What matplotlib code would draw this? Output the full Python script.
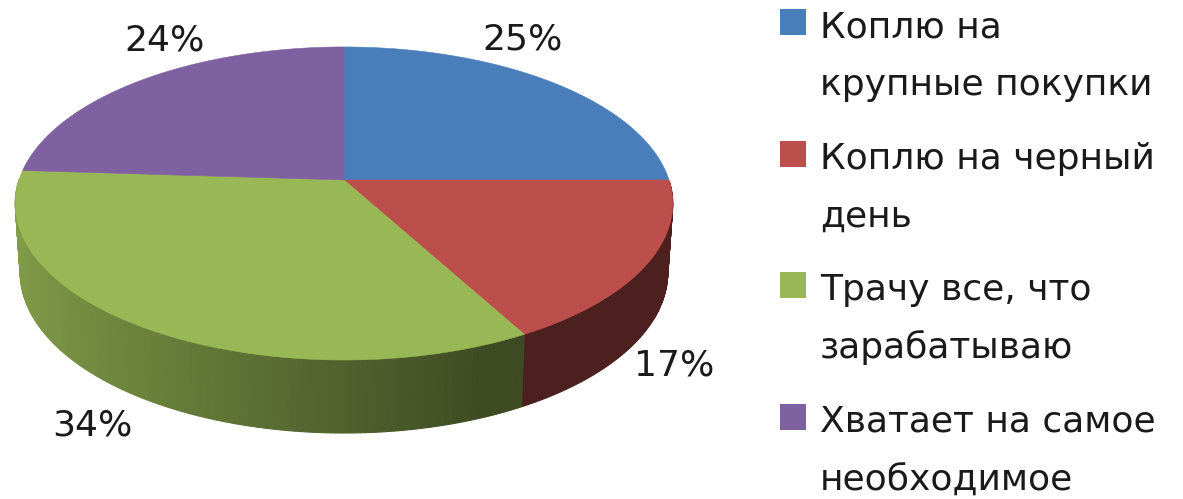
import numpy as np
import matplotlib.pyplot as plt
from matplotlib.colors import to_rgb
from matplotlib.patches import Polygon, Rectangle

# Данные диаграммы
categories = [
    "Коплю на\nкрупные покупки",
    "Коплю на черный\nдень",
    "Трачу все, что\nзарабатываю",
    "Хватает на самое\nнеобходимое",
]
shares = [25, 17, 34, 24]
colors = ["#4a7ebb", "#bc4f4c", "#98b855", "#7f60a0"]

# Подписи долей, центры в пикселях картинки
label_pos = [(523, 39), (674, 365), (92, 426), (165, 40)]

# Параметры перспективы круга
CX, CY = 344.0, 180.0
RX, RY = 325.0, 153.0
PERSP = 0.15


def top_point(theta):
    x = np.sin(theta)
    y = -np.cos(theta)
    w = 1.0 - PERSP * y
    return CX + RX * x / w, CY + RY * y / w


def bottom_point(theta):
    px, py = top_point(theta)
    return CX + 0.985 * (px - CX), py + 68.0 - 5.0 * np.cos(theta)


def side_shade(theta):
    return max(0.85 - (np.sin(theta) + 1.0) * 0.32, 0.40)


fig = plt.figure(figsize=(11.83, 4.99), dpi=100)
ax = fig.add_axes([0, 0, 1, 1])
ax.set_xlim(0, 1183)
ax.set_ylim(499, 0)
ax.axis("off")

edges = 2.0 * np.pi * np.cumsum([0] + shares) / sum(shares)

# Боковая стенка рисуется полосками для градиента, задняя часть не видна
for start, end, color in zip(edges[:-1], edges[1:], colors):
    base = np.array(to_rgb(color))
    steps = np.linspace(start, end, max(int((end - start) * 90), 2))
    for t0, t1 in zip(steps[:-1], steps[1:]):
        if np.cos(t0) > 0.0:
            continue
        quad = [top_point(t0), top_point(t1), bottom_point(t1), bottom_point(t0)]
        shade = base * side_shade(t0)
        ax.add_patch(Polygon(quad, closed=True, facecolor=shade, edgecolor=shade, linewidth=0.8, zorder=2))

# Верхняя грань
for start, end, color in zip(edges[:-1], edges[1:], colors):
    thetas = np.linspace(start, end, 200)
    xs, ys = top_point(thetas)
    points = [(CX, CY)] + list(zip(xs, ys))
    ax.add_patch(Polygon(points, closed=True, facecolor=color, edgecolor=color, linewidth=0.4, zorder=3))

for share, (x, y) in zip(shares, label_pos):
    ax.text(x, y, f"{share}%", fontsize=26, color="#1a1a1a", ha="center", va="center", zorder=4)

# Легенда
for i, (name, color) in enumerate(zip(categories, colors)):
    top = 9 + i * 131.5
    ax.add_patch(Rectangle((780, top), 26, 26, facecolor=color, edgecolor="none", zorder=4))
    for j, line in enumerate(name.split("\n")):
        ax.text(820, top + 28 + j * 58, line, fontsize=26, color="#1a1a1a", ha="left", va="baseline", zorder=4)

fig.savefig("out.png", dpi=100)
plt.close(fig)
